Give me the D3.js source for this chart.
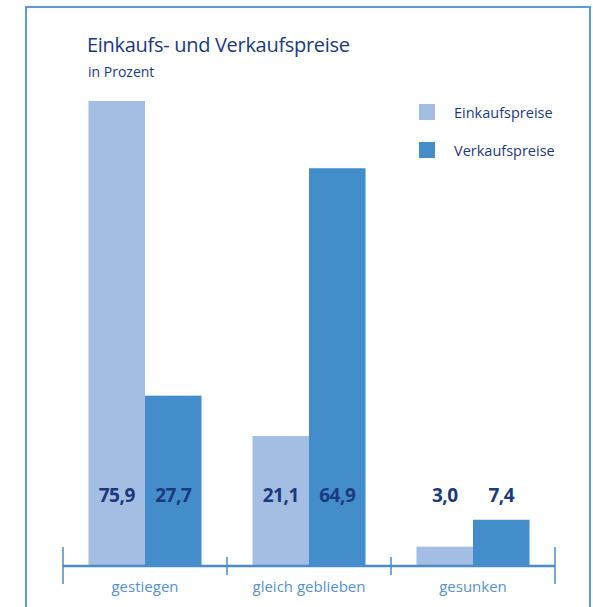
<!DOCTYPE html>
<html>
<head>
<meta charset="utf-8">
<script src="https://cdn.jsdelivr.net/npm/d3@7"></script>
<style>
  body { margin: 0; background: #fff; }
  text { font-family: "Open Sans", "Noto Sans", sans-serif; }
</style>
</head>
<body>
<div id="chart"></div>
<script>
var categories = ['gestiegen', 'gleich geblieben', 'gesunken'];
var seriesNames = ['Einkaufspreise', 'Verkaufspreise'];
var einkauf = [75.9, 21.1, 3.0];
var verkauf = [27.7, 64.9, 7.4];
var labels = [['75,9', '27,7'], ['21,1', '64,9'], ['3,0', '7,4']];

var colors = ['#a3bde3', '#438dcb'];
var navy = '#1b3a7e';
var axisBlue = '#4a8bcb';

var width = 593, height = 607;

var svg = d3.select('#chart').append('svg')
    .attr('width', width)
    .attr('height', height);

// frame
svg.append('rect')
    .attr('x', 26).attr('y', 7)
    .attr('width', 564).attr('height', 640)
    .attr('fill', 'none')
    .attr('stroke', '#5d9bd6')
    .attr('stroke-width', 2);

svg.append('text')
    .attr('x', 87).attr('y', 52)
    .attr('fill', navy)
    .attr('font-size', 20)
    .attr('font-weight', 500)
    .style('letter-spacing', '-0.3px')
    .text('Einkaufs- und Verkaufspreise');

svg.append('text')
    .attr('x', 88).attr('y', 77)
    .attr('fill', navy)
    .attr('font-size', 14)
    .text('in Prozent');

var x = d3.scaleBand()
    .domain(categories)
    .range([63, 555]);

var barW = 56.5;

var y = d3.scaleLinear()
    .domain([0, 75.9])
    .range([565, 101]);

var data = categories.map(function(c, i) {
    return { cat: c, values: [einkauf[i], verkauf[i]], labels: labels[i] };
});

var groups = svg.selectAll('g.group')
    .data(data)
    .enter()
    .append('g')
    .attr('class', 'group')
    .attr('transform', function(d) {
        return 'translate(' + (x(d.cat) + x.bandwidth() / 2) + ',0)';
    });

groups.selectAll('rect')
    .data(function(d) { return d.values; })
    .enter()
    .append('rect')
    .attr('x', function(d, j) { return j === 0 ? -barW : 0; })
    .attr('y', function(d) { return y(d); })
    .attr('width', barW)
    .attr('height', function(d) { return y(0) - y(d); })
    .attr('fill', function(d, j) { return colors[j]; });

groups.selectAll('text.val')
    .data(function(d) { return d.labels; })
    .enter()
    .append('text')
    .attr('class', 'val')
    .attr('x', function(d, j) { return j === 0 ? -barW / 2 : barW / 2; })
    .attr('y', 502)
    .attr('text-anchor', 'middle')
    .attr('fill', navy)
    .attr('font-size', 19)
    .attr('font-weight', 'bold')
    .style('letter-spacing', '-0.5px')
    .text(function(d) { return d; });

// axis
var axisG = svg.append('g');
axisG.append('line')
    .attr('x1', x.range()[0]).attr('x2', x.range()[1])
    .attr('y1', 566).attr('y2', 566)
    .attr('stroke', axisBlue)
    .attr('stroke-width', 2.5);

var tickPos = categories.map(function(c) { return x(c); }).concat([x.range()[1]]);
axisG.selectAll('line.tick')
    .data(tickPos)
    .enter()
    .append('line')
    .attr('class', 'tick')
    .attr('x1', function(d) { return d; })
    .attr('x2', function(d) { return d; })
    .attr('y1', function(d, i) { return (i === 0 || i === tickPos.length - 1) ? 547 : 557; })
    .attr('y2', function(d, i) { return (i === 0 || i === tickPos.length - 1) ? 584 : 575; })
    .attr('stroke', axisBlue)
    .attr('stroke-width', 1.5);

axisG.selectAll('text.cat')
    .data(categories)
    .enter()
    .append('text')
    .attr('class', 'cat')
    .attr('x', function(d) { return x(d) + x.bandwidth() / 2; })
    .attr('y', 592)
    .attr('text-anchor', 'middle')
    .attr('fill', '#5590cf')
    .attr('font-size', 15)
    .text(function(d) { return d; });

// legend
var legend = svg.selectAll('g.legend')
    .data(seriesNames)
    .enter()
    .append('g')
    .attr('class', 'legend')
    .attr('transform', function(d, i) { return 'translate(419,' + (104 + i * 38) + ')'; });

legend.append('rect')
    .attr('width', 16).attr('height', 16)
    .attr('fill', function(d, i) { return colors[i]; });

legend.append('text')
    .attr('x', 35).attr('y', 14)
    .attr('fill', navy)
    .attr('font-size', 14.5)
    .text(function(d) { return d; });
</script>
</body>
</html>
